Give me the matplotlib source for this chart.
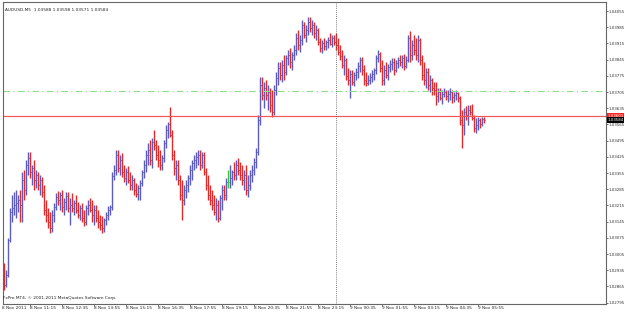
import numpy as np
import matplotlib
matplotlib.use("Agg")
import matplotlib.pyplot as plt
import matplotlib.transforms as mtransforms

# AUDUSD M5, 8 Nov 2011 10:10 .. 9 Nov 2011 06:10 (one value per bar)
opens = [
    1.02945, 1.02871, 1.02915, 1.03066, 1.03187, 1.03204, 1.03217, 1.03226, 1.03239, 1.03217,
    1.03325, 1.03282, 1.03390, 1.03420, 1.03360, 1.03377, 1.03325, 1.03347, 1.03303, 1.03325,
    1.03273, 1.03195, 1.03174, 1.03144, 1.03118, 1.03174, 1.03208, 1.03252, 1.03239, 1.03260,
    1.03208, 1.03230, 1.03256, 1.03204, 1.03217, 1.03204, 1.03226, 1.03195, 1.03174, 1.03204,
    1.03161, 1.03144, 1.03204, 1.03217, 1.03195, 1.03174, 1.03195, 1.03161, 1.03144, 1.03131,
    1.03118, 1.03152, 1.03174, 1.03195, 1.03208, 1.03342, 1.03368, 1.03433, 1.03377, 1.03411,
    1.03360, 1.03334, 1.03360, 1.03325, 1.03303, 1.03325, 1.03282, 1.03264, 1.03290, 1.03312,
    1.03360, 1.03390, 1.03433, 1.03455, 1.03411, 1.03489, 1.03476, 1.03433, 1.03411, 1.03390,
    1.03420, 1.03485, 1.03541, 1.03567, 1.03519, 1.03433, 1.03377, 1.03390, 1.03325, 1.03260,
    1.03239, 1.03282, 1.03303, 1.03334, 1.03368, 1.03398, 1.03411, 1.03424, 1.03433, 1.03390,
    1.03433, 1.03360, 1.03303, 1.03260, 1.03239, 1.03217, 1.03187, 1.03217, 1.03161, 1.03247,
    1.03282, 1.03260, 1.03316, 1.03316, 1.03334, 1.03360, 1.03347, 1.03390, 1.03368, 1.03347,
    1.03325, 1.03347, 1.03282, 1.03303, 1.03347, 1.03368, 1.03403, 1.03446, 1.03584, 1.03735,
    1.03692, 1.03722, 1.03692, 1.03705, 1.03649, 1.03619, 1.03714, 1.03766, 1.03809, 1.03779,
    1.03822, 1.03792, 1.03852, 1.03865, 1.03835, 1.03865, 1.03887, 1.03938, 1.03908, 1.03930,
    1.03995, 1.03951, 1.03973, 1.04008, 1.03982, 1.03995, 1.03960, 1.03973, 1.03921, 1.03895,
    1.03917, 1.03904, 1.03921, 1.03930, 1.03912, 1.03938, 1.03921, 1.03908, 1.03878, 1.03861,
    1.03822, 1.03843, 1.03774, 1.03757, 1.03783, 1.03748, 1.03779, 1.03792, 1.03817, 1.03843,
    1.03800, 1.03757, 1.03744, 1.03757, 1.03770, 1.03783, 1.03800, 1.03852, 1.03869, 1.03809,
    1.03757, 1.03800, 1.03779, 1.03813, 1.03826, 1.03835, 1.03800, 1.03830, 1.03843, 1.03835,
    1.03852, 1.03817, 1.03843, 1.03938, 1.03865, 1.03908, 1.03887, 1.03865, 1.03930, 1.03843,
    1.03779, 1.03757, 1.03792, 1.03735, 1.03757, 1.03722, 1.03714, 1.03688, 1.03705, 1.03679,
    1.03696, 1.03705, 1.03688, 1.03696, 1.03705, 1.03684, 1.03692, 1.03701, 1.03679, 1.03584,
    1.03563, 1.03619, 1.03606, 1.03627, 1.03619, 1.03593, 1.03550, 1.03563, 1.03584, 1.03567,
    1.03588,
]
highs = [
    1.02966, 1.02936, 1.03074, 1.03204, 1.03260, 1.03273, 1.03282, 1.03260, 1.03282, 1.03360,
    1.03368, 1.03411, 1.03446, 1.03446, 1.03390, 1.03411, 1.03368, 1.03360, 1.03347, 1.03338,
    1.03303, 1.03239, 1.03204, 1.03187, 1.03195, 1.03226, 1.03269, 1.03277, 1.03273, 1.03282,
    1.03247, 1.03273, 1.03273, 1.03247, 1.03269, 1.03239, 1.03260, 1.03230, 1.03217, 1.03226,
    1.03195, 1.03217, 1.03239, 1.03247, 1.03239, 1.03217, 1.03217, 1.03195, 1.03174, 1.03169,
    1.03161, 1.03187, 1.03213, 1.03217, 1.03360, 1.03390, 1.03455, 1.03455, 1.03433, 1.03442,
    1.03390, 1.03377, 1.03385, 1.03360, 1.03347, 1.03334, 1.03312, 1.03303, 1.03325, 1.03368,
    1.03411, 1.03455, 1.03485, 1.03498, 1.03506, 1.03541, 1.03498, 1.03476, 1.03455, 1.03433,
    1.03498, 1.03563, 1.03576, 1.03640, 1.03541, 1.03455, 1.03411, 1.03411, 1.03347, 1.03325,
    1.03303, 1.03325, 1.03347, 1.03390, 1.03411, 1.03433, 1.03446, 1.03455, 1.03455, 1.03446,
    1.03446, 1.03377, 1.03347, 1.03303, 1.03282, 1.03260, 1.03247, 1.03239, 1.03260, 1.03303,
    1.03303, 1.03334, 1.03368, 1.03390, 1.03368, 1.03403, 1.03411, 1.03420, 1.03403, 1.03390,
    1.03368, 1.03390, 1.03347, 1.03368, 1.03390, 1.03420, 1.03463, 1.03606, 1.03770, 1.03770,
    1.03748, 1.03757, 1.03735, 1.03722, 1.03714, 1.03735, 1.03792, 1.03835, 1.03835, 1.03843,
    1.03865, 1.03865, 1.03887, 1.03895, 1.03878, 1.03908, 1.03960, 1.03973, 1.03951, 1.04016,
    1.04008, 1.03995, 1.04029, 1.04029, 1.04016, 1.04008, 1.03995, 1.03982, 1.03938, 1.03930,
    1.03938, 1.03930, 1.03943, 1.03960, 1.03951, 1.03951, 1.03960, 1.03938, 1.03908, 1.03887,
    1.03865, 1.03852, 1.03809, 1.03800, 1.03800, 1.03792, 1.03809, 1.03835, 1.03856, 1.03856,
    1.03822, 1.03792, 1.03779, 1.03787, 1.03800, 1.03809, 1.03865, 1.03887, 1.03878, 1.03843,
    1.03822, 1.03835, 1.03826, 1.03843, 1.03852, 1.03852, 1.03843, 1.03856, 1.03865, 1.03865,
    1.03869, 1.03861, 1.03951, 1.03969, 1.03930, 1.03951, 1.03938, 1.03951, 1.03938, 1.03865,
    1.03835, 1.03809, 1.03809, 1.03779, 1.03766, 1.03748, 1.03748, 1.03722, 1.03722, 1.03714,
    1.03722, 1.03714, 1.03714, 1.03722, 1.03714, 1.03705, 1.03714, 1.03705, 1.03688, 1.03627,
    1.03636, 1.03645, 1.03649, 1.03649, 1.03653, 1.03606, 1.03593, 1.03597, 1.03593, 1.03597,
    1.03598,
]
lows = [
    1.02850, 1.02863, 1.02906, 1.03057, 1.03144, 1.03174, 1.03161, 1.03187, 1.03144, 1.03144,
    1.03239, 1.03260, 1.03347, 1.03334, 1.03303, 1.03282, 1.03290, 1.03282, 1.03260, 1.03252,
    1.03174, 1.03144, 1.03118, 1.03096, 1.03100, 1.03144, 1.03195, 1.03217, 1.03195, 1.03187,
    1.03174, 1.03195, 1.03187, 1.03131, 1.03187, 1.03174, 1.03182, 1.03161, 1.03152, 1.03144,
    1.03126, 1.03131, 1.03174, 1.03187, 1.03144, 1.03131, 1.03144, 1.03118, 1.03109, 1.03096,
    1.03100, 1.03131, 1.03152, 1.03174, 1.03195, 1.03325, 1.03347, 1.03360, 1.03347, 1.03338,
    1.03316, 1.03303, 1.03312, 1.03282, 1.03282, 1.03260, 1.03252, 1.03239, 1.03239, 1.03299,
    1.03334, 1.03360, 1.03390, 1.03390, 1.03377, 1.03455, 1.03411, 1.03381, 1.03368, 1.03368,
    1.03403, 1.03463, 1.03506, 1.03511, 1.03411, 1.03347, 1.03325, 1.03303, 1.03239, 1.03152,
    1.03217, 1.03247, 1.03273, 1.03303, 1.03325, 1.03368, 1.03377, 1.03390, 1.03368, 1.03377,
    1.03347, 1.03282, 1.03239, 1.03217, 1.03195, 1.03174, 1.03152, 1.03144, 1.03152, 1.03195,
    1.03239, 1.03239, 1.03290, 1.03290, 1.03303, 1.03325, 1.03325, 1.03347, 1.03325, 1.03303,
    1.03282, 1.03260, 1.03252, 1.03282, 1.03316, 1.03347, 1.03377, 1.03433, 1.03563, 1.03671,
    1.03636, 1.03671, 1.03627, 1.03619, 1.03597, 1.03606, 1.03692, 1.03735, 1.03757, 1.03748,
    1.03757, 1.03779, 1.03822, 1.03809, 1.03800, 1.03843, 1.03865, 1.03887, 1.03878, 1.03908,
    1.03938, 1.03921, 1.03951, 1.03964, 1.03951, 1.03938, 1.03930, 1.03908, 1.03878, 1.03874,
    1.03887, 1.03887, 1.03895, 1.03908, 1.03900, 1.03908, 1.03887, 1.03865, 1.03843, 1.03809,
    1.03779, 1.03757, 1.03735, 1.03679, 1.03735, 1.03731, 1.03757, 1.03766, 1.03792, 1.03779,
    1.03735, 1.03731, 1.03735, 1.03740, 1.03748, 1.03757, 1.03783, 1.03835, 1.03792, 1.03735,
    1.03735, 1.03766, 1.03757, 1.03792, 1.03800, 1.03779, 1.03792, 1.03809, 1.03817, 1.03809,
    1.03800, 1.03809, 1.03835, 1.03835, 1.03843, 1.03865, 1.03843, 1.03835, 1.03822, 1.03757,
    1.03735, 1.03722, 1.03714, 1.03705, 1.03692, 1.03692, 1.03649, 1.03662, 1.03671, 1.03653,
    1.03684, 1.03671, 1.03662, 1.03671, 1.03658, 1.03662, 1.03671, 1.03662, 1.03563, 1.03463,
    1.03519, 1.03584, 1.03563, 1.03606, 1.03584, 1.03532, 1.03528, 1.03541, 1.03550, 1.03558,
    1.03571,
]
closes = [
    1.02871, 1.02915, 1.03066, 1.03187, 1.03204, 1.03217, 1.03226, 1.03239, 1.03217, 1.03325,
    1.03282, 1.03390, 1.03420, 1.03360, 1.03377, 1.03325, 1.03347, 1.03303, 1.03325, 1.03273,
    1.03195, 1.03174, 1.03144, 1.03118, 1.03174, 1.03208, 1.03252, 1.03239, 1.03260, 1.03208,
    1.03230, 1.03256, 1.03204, 1.03217, 1.03204, 1.03226, 1.03195, 1.03174, 1.03204, 1.03161,
    1.03144, 1.03204, 1.03217, 1.03195, 1.03174, 1.03195, 1.03161, 1.03144, 1.03131, 1.03118,
    1.03152, 1.03174, 1.03195, 1.03208, 1.03342, 1.03368, 1.03433, 1.03377, 1.03411, 1.03360,
    1.03334, 1.03360, 1.03325, 1.03303, 1.03325, 1.03282, 1.03264, 1.03290, 1.03312, 1.03360,
    1.03390, 1.03433, 1.03455, 1.03411, 1.03489, 1.03476, 1.03433, 1.03411, 1.03390, 1.03420,
    1.03485, 1.03541, 1.03567, 1.03519, 1.03433, 1.03377, 1.03390, 1.03325, 1.03260, 1.03239,
    1.03282, 1.03303, 1.03334, 1.03368, 1.03398, 1.03411, 1.03424, 1.03433, 1.03390, 1.03433,
    1.03360, 1.03303, 1.03260, 1.03239, 1.03217, 1.03187, 1.03217, 1.03161, 1.03247, 1.03282,
    1.03260, 1.03316, 1.03316, 1.03334, 1.03360, 1.03347, 1.03390, 1.03368, 1.03347, 1.03325,
    1.03347, 1.03282, 1.03303, 1.03347, 1.03368, 1.03403, 1.03446, 1.03584, 1.03735, 1.03692,
    1.03722, 1.03692, 1.03705, 1.03649, 1.03619, 1.03714, 1.03766, 1.03809, 1.03779, 1.03822,
    1.03792, 1.03852, 1.03865, 1.03835, 1.03865, 1.03887, 1.03938, 1.03908, 1.03930, 1.03995,
    1.03951, 1.03973, 1.04008, 1.03982, 1.03995, 1.03960, 1.03973, 1.03921, 1.03895, 1.03917,
    1.03904, 1.03921, 1.03930, 1.03912, 1.03938, 1.03921, 1.03908, 1.03878, 1.03861, 1.03822,
    1.03843, 1.03774, 1.03757, 1.03783, 1.03748, 1.03779, 1.03792, 1.03817, 1.03843, 1.03800,
    1.03757, 1.03744, 1.03757, 1.03770, 1.03783, 1.03800, 1.03852, 1.03869, 1.03809, 1.03757,
    1.03800, 1.03779, 1.03813, 1.03826, 1.03835, 1.03800, 1.03830, 1.03843, 1.03835, 1.03852,
    1.03817, 1.03843, 1.03938, 1.03865, 1.03908, 1.03887, 1.03865, 1.03930, 1.03843, 1.03779,
    1.03757, 1.03792, 1.03735, 1.03757, 1.03722, 1.03714, 1.03688, 1.03705, 1.03679, 1.03696,
    1.03705, 1.03688, 1.03696, 1.03705, 1.03684, 1.03692, 1.03701, 1.03679, 1.03584, 1.03563,
    1.03619, 1.03606, 1.03627, 1.03619, 1.03593, 1.03550, 1.03563, 1.03584, 1.03567, 1.03588,
    1.03584,
]

time_labels = ["8 Nov 2011", "8 Nov 11:15", "8 Nov 12:35", "8 Nov 13:55", "8 Nov 15:15",
               "8 Nov 16:35", "8 Nov 17:55", "8 Nov 19:15", "8 Nov 20:35", "8 Nov 21:55",
               "8 Nov 23:15", "9 Nov 00:35", "9 Nov 01:55", "9 Nov 03:15", "9 Nov 04:35",
               "9 Nov 05:55"]
label_bars = [-1.0, 13, 29, 45, 61, 77, 93, 109, 125, 141, 157, 173, 189, 205, 221, 237]
price_ticks = [1.02795, 1.02865, 1.02935, 1.03005, 1.03075, 1.03145, 1.03215, 1.03285,
               1.03355, 1.03425, 1.03495, 1.03565, 1.03635, 1.03705, 1.03775, 1.03845,
               1.03915, 1.03985, 1.04055]
ask_price = 1.03601
order_price = 1.03709
separator_bar = 166   # 9 Nov 00:00

o = np.array(opens); h = np.array(highs); l = np.array(lows); c = np.array(closes)
x = np.arange(len(c))

blue = '#5c5cbc'
red = '#e22a2a'
green = '#33cc33'
cols = np.where(c > o, blue, np.where(c < o, red, green))

fig = plt.figure(figsize=(6.25, 3.13), dpi=100)
fig.patch.set_facecolor('white')
ax = fig.add_axes([3/625, 1-304/313, 603/625, 302/313])

ax.vlines(x, l, h, colors=cols, lw=1.0)
ax.hlines(o, x-0.5, x, colors=cols, lw=0.7)
ax.hlines(c, x, x+0.5, colors=cols, lw=0.7)

ax.axhline(order_price, color='#8edc8e', lw=0.8, ls=(0, (6, 3, 1, 3)))
ax.axhline(ask_price, color='#f05a5a', lw=0.9)
ax.axvline(separator_bar, color='#555555', lw=0.6, ls=(0, (1, 1.5)))

ax.set_xlim(-0.5, 301)
ax.set_ylim(1.02789, 1.04094)

ax.yaxis.tick_right()
ax.set_yticks(price_ticks)
ax.set_yticklabels(['%.5f' % p for p in price_ticks])
ax.tick_params(axis='y', length=1.5, width=0.5, pad=0.5, labelsize=2.9, colors='#333333')
ax.set_xticks([b for b in label_bars if b >= 0])
ax.set_xticklabels([])
ax.tick_params(axis='x', length=1.5, width=0.5, colors='#333333')
for s in ax.spines.values():
    s.set_color('#666666')
    s.set_linewidth(0.8)

trans = mtransforms.blended_transform_factory(ax.transData, ax.transAxes)
for b, t in zip(label_bars, time_labels):
    ax.text(b, -0.008, t, transform=trans, ha='left', va='top', fontsize=3.1,
            color='#222222', clip_on=False)

# price boxes on the right scale
ax.text(1.002, ask_price, '%.5f' % ask_price, transform=ax.get_yaxis_transform(),
        ha='left', va='center', fontsize=2.9, color='white', clip_on=False,
        bbox=dict(boxstyle='square,pad=0.15', fc='#ff2020', ec='none'))
ax.text(1.002, c[-1], '%.5f' % c[-1], transform=ax.get_yaxis_transform(),
        ha='left', va='center', fontsize=2.9, color='white', clip_on=False,
        bbox=dict(boxstyle='square,pad=0.15', fc='black', ec='none'))

ax.text(0.003, 0.98, 'AUDUSD,M5  %.5f %.5f %.5f %.5f' % (o[-1], h[-1], l[-1], c[-1]),
        transform=ax.transAxes, ha='left', va='top', fontsize=3.1, color='#222222')
ax.text(0.003, order_price + 0.00004, '#58603320 sell', transform=trans,
        ha='left', va='bottom', fontsize=3.1, color='#222222')
ax.text(0.0, 0.012, 'FxPro MT4, \u00a9 2001-2011 MetaQuotes Software Corp.',
        transform=ax.transAxes, ha='left', va='bottom', fontsize=3.1, color='#222222')

fig.savefig('out.png', dpi=100, facecolor='white')
